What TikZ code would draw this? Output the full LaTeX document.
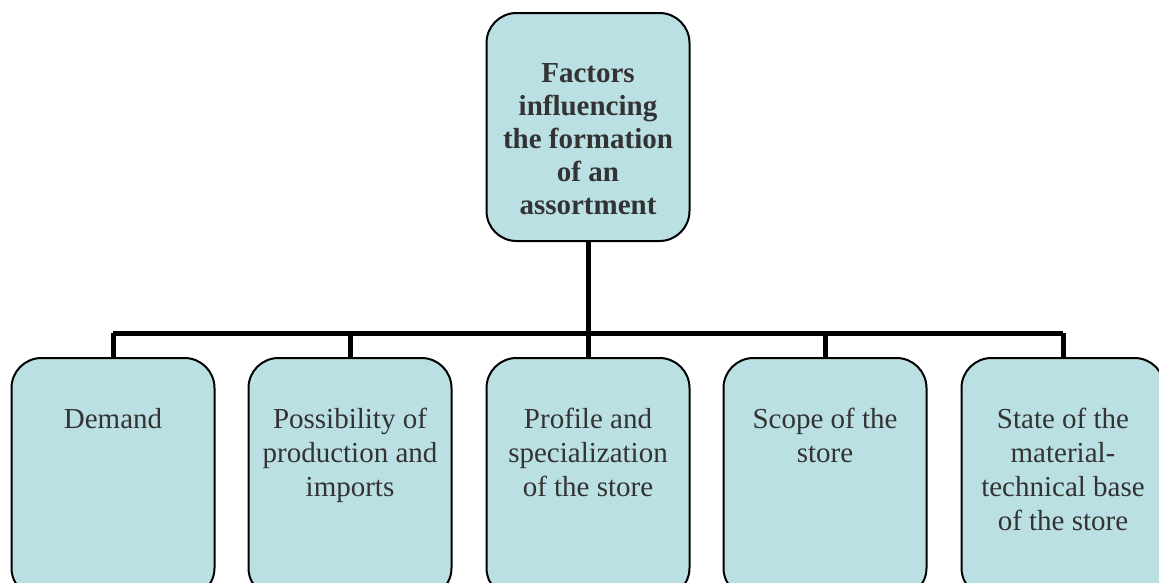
\documentclass[tikz,border=0pt]{standalone}
\usepackage{fontspec}
\setmainfont{Liberation Serif}
\definecolor{boxfill}{HTML}{BBE0E3}
\definecolor{txtgray}{HTML}{333333}
\begin{document}
\begin{tikzpicture}[x=1pt,y=-1pt,
  box/.style={draw=black, line width=2pt, fill=boxfill, rounded corners=30pt,
    minimum width=203pt, inner sep=0pt, anchor=north},
  txt/.style={anchor=north, align=center, text=txtgray, inner sep=0pt,
    font=\fontsize{29}{34}\selectfont},
  conn/.style={line width=5pt, draw=black}
]
\useasboundingbox (0,0) rectangle (1159,582);
\clip (0,0) rectangle (1159,582);
% top box
\node[box, minimum height=228pt] (top) at (588,12) {};
\node[txt, font=\fontsize{29}{33}\selectfont\bfseries] (toptxt) at ([yshift=-51pt]top.north)
  {Factors\\influencing\\the formation\\of an\\assortment};
% bottom boxes
\node[box, minimum height=240pt] (b1) at (113,357) {};
\node[box, minimum height=240pt] (b2) at (350,357) {};
\node[box, minimum height=240pt] (b3) at (588,357) {};
\node[box, minimum height=240pt] (b4) at (825,357) {};
\node[box, minimum height=240pt] (b5) at (1063,357) {};
\node[txt] (t1) at ([yshift=-51pt]b1.north) {Demand};
\node[txt] (t2) at ([yshift=-51pt]b2.north) {Possibility of\\production and\\imports};
\node[txt] (t3) at ([yshift=-51pt]b3.north) {Profile and\\specialization\\of the store};
\node[txt] (t4) at ([yshift=-51pt]b4.north) {Scope of the\\store};
\node[txt] (t5) at ([yshift=-51pt]b5.north) {State of the\\material-\\technical base\\of the store};
% connectors
\coordinate (hub) at (588,333);
\coordinate (hl) at (113,333);
\coordinate (hr) at (1063,333);
\draw[conn] (top.south) -- (hub);
\draw[conn] (hl) -- (hr);
\draw[conn] (hl) -- (b1.north);
\draw[conn] (b2.north |- hub) -- (b2.north);
\draw[conn] (hub) -- (b3.north);
\draw[conn] (b4.north |- hub) -- (b4.north);
\draw[conn] (hr) -- (b5.north);
\end{tikzpicture}
\end{document}
